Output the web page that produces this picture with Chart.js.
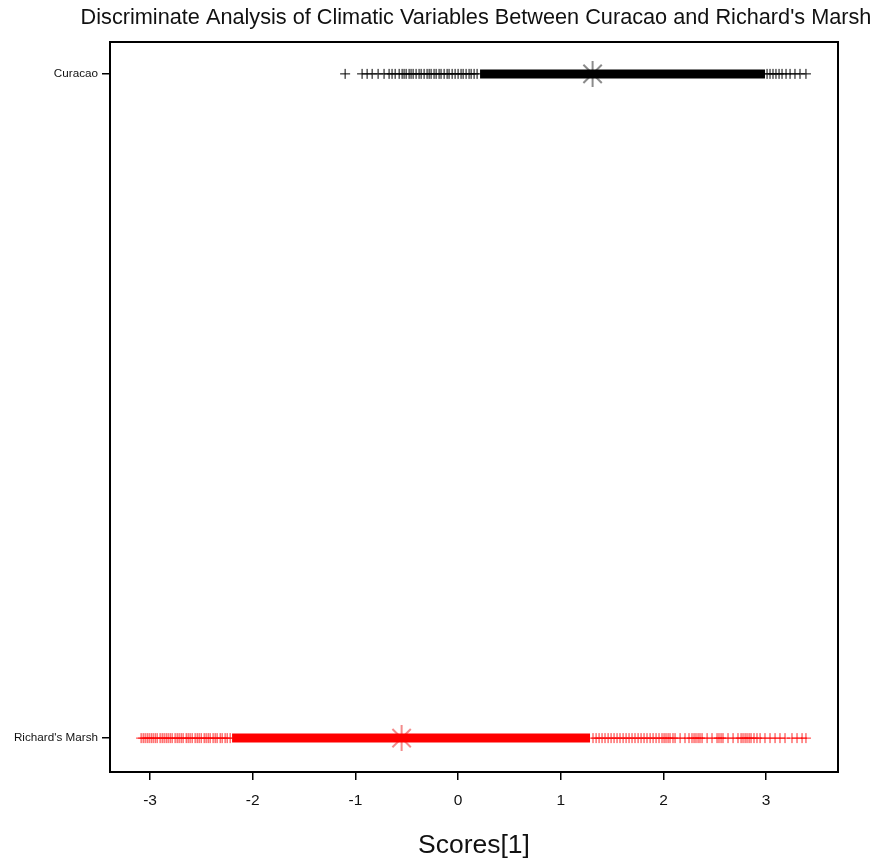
<!DOCTYPE html>
<html>
<head>
<meta charset="utf-8">
<script src="https://cdn.jsdelivr.net/npm/chart.js@4/dist/chart.umd.min.js"></script>
<style>
  html, body { margin: 0; padding: 0; background: #fff; }
  #wrap { width: 877px; height: 862px; }
</style>
</head>
<body>
<div id="wrap"><canvas id="lda"></canvas></div>
<script>
// Group labels, bottom (y = 1) to top (y = 2)
const groupNames = ["Richard's Marsh", 'Curacao'];
const xTicks = [-3, -2, -1, 0, 1, 2, 3];
const chartTitle = "Discriminate Analysis of Climatic Variables Between Curacao and Richard's Marsh";

// Individual discriminant scores that are readable as separate marks
const curacaoScores = [
    -1.100, -0.935, -0.886, -0.837, -0.779, -0.721, -0.672, -0.643, -0.613, -0.574,
    -0.545, -0.526, -0.506, -0.477, -0.458, -0.438, -0.409, -0.380, -0.360, -0.331,
    -0.302, -0.282, -0.263, -0.234, -0.214, -0.185, -0.166, -0.136, -0.107, -0.088,
    -0.058, -0.029, 0.000, 0.029, 0.049, 0.078, 0.107, 0.127, 0.156, 0.185,
    3.009, 3.038, 3.067, 3.096, 3.126, 3.155, 3.194, 3.233, 3.281, 3.330, 3.388
];
const marshScores = [
    -3.087, -3.067, -3.048, -3.028, -3.009, -2.989, -2.970, -2.950, -2.931, -2.902,
    -2.882, -2.863, -2.843, -2.824, -2.804, -2.785, -2.756, -2.736, -2.717, -2.697,
    -2.678, -2.648, -2.629, -2.610, -2.590, -2.561, -2.541, -2.522, -2.502, -2.473,
    -2.454, -2.434, -2.415, -2.386, -2.366, -2.347, -2.317, -2.298, -2.269, -2.249, -2.220,
    1.314, 1.344, 1.373, 1.402, 1.431, 1.461, 1.490, 1.519, 1.548, 1.577,
    1.607, 1.636, 1.665, 1.694, 1.723, 1.753, 1.782, 1.811, 1.840, 1.870,
    1.899, 1.928, 1.957, 1.986, 2.006, 2.025, 2.045, 2.064, 2.093, 2.113,
    2.162, 2.210, 2.249, 2.278, 2.298, 2.317, 2.337, 2.356, 2.376, 2.425,
    2.473, 2.522, 2.541, 2.561, 2.580, 2.629, 2.678, 2.726, 2.756, 2.775,
    2.795, 2.814, 2.834, 2.853, 2.882, 2.911, 2.941, 2.989, 3.038, 3.087,
    3.135, 3.184, 3.252, 3.301, 3.350, 3.388
];

// Ranges where the marks are so dense they merge into a solid band
const curacaoBand = [0.214, 2.989];
const marshBand = [-2.201, 1.285];

// Group means (Curacao, Richard's Marsh)
const groupMeans = [1.31, -0.55];

const CUR_COLOR = '#000000';
const RM_COLOR = '#ff0000';
const FONT = 'Liberation Sans, Arial, sans-serif';

function strip(values, y) {
    return values.map(v => ({ x: v, y: y }));
}

// Full box around the plot region, plus the title centred over it
const boxPlugin = {
    id: 'box',
    afterDraw(chart) {
        const { ctx, chartArea: a } = chart;
        ctx.save();
        ctx.strokeStyle = '#000';
        ctx.lineWidth = 2;
        ctx.strokeRect(a.left, a.top, a.right - a.left, a.bottom - a.top);

        ctx.fillStyle = '#111';
        ctx.font = '21.7px ' + FONT;
        ctx.textAlign = 'center';
        ctx.textBaseline = 'middle';
        ctx.fillText(chartTitle, (a.left + a.right) / 2 + 2, 18);
        ctx.restore();
    }
};

new Chart(document.getElementById('lda'), {
    type: 'scatter',
    data: {
        datasets: [
            {
                data: strip(curacaoBand, 2),
                showLine: true,
                borderColor: CUR_COLOR,
                borderWidth: 9,
                pointRadius: 0,
                borderCapStyle: 'butt'
            },
            {
                data: strip(curacaoScores, 2),
                pointStyle: 'cross',
                pointRadius: 5,
                borderWidth: 1,
                borderColor: CUR_COLOR
            },
            {
                data: strip(marshBand, 1),
                showLine: true,
                borderColor: RM_COLOR,
                borderWidth: 9,
                pointRadius: 0,
                borderCapStyle: 'butt'
            },
            {
                data: strip(marshScores, 1),
                pointStyle: 'cross',
                pointRadius: 5,
                borderWidth: 1,
                borderColor: 'rgba(255, 0, 0, 0.85)'
            },
            {
                data: [{ x: groupMeans[0], y: 2 }],
                pointStyle: 'star',
                pointRadius: 13,
                borderWidth: 2,
                borderColor: 'rgba(110, 110, 110, 0.8)'
            },
            {
                data: [{ x: groupMeans[1], y: 1 }],
                pointStyle: 'star',
                pointRadius: 13,
                borderWidth: 2,
                borderColor: 'rgba(240, 110, 110, 0.8)'
            }
        ]
    },
    options: {
        responsive: true,
        maintainAspectRatio: false,
        animation: false,
        layout: { padding: { top: 42, right: 39, bottom: 0 } },
        plugins: {
            legend: { display: false },
            tooltip: { enabled: false },
            title: { display: false }
        },
        scales: {
            x: {
                type: 'linear',
                min: -3.39,
                max: 3.70,
                afterBuildTicks: axis => { axis.ticks = xTicks.map(v => ({ value: v })); },
                afterFit: axis => { axis.height = 90; },
                ticks: {
                    color: '#111',
                    font: { family: FONT, size: 15.5 },
                    padding: 11,
                    maxRotation: 0
                },
                grid: {
                    drawOnChartArea: false,
                    drawTicks: true,
                    tickLength: 8,
                    color: '#000',
                    lineWidth: 1.5
                },
                border: { display: true, color: '#000', width: 2 },
                title: {
                    display: true,
                    text: 'Scores[1]',
                    color: '#111',
                    font: { family: FONT, size: 26.5 },
                    padding: { top: 14, bottom: 0 }
                }
            },
            y: {
                type: 'linear',
                min: 0.949,
                max: 2.048,
                afterBuildTicks: axis => { axis.ticks = [{ value: 1 }, { value: 2 }]; },
                afterFit: axis => { axis.width = 110; },
                ticks: {
                    color: '#111',
                    font: { family: FONT, size: 11.7 },
                    padding: 4,
                    callback: v => groupNames[v - 1]
                },
                grid: {
                    drawOnChartArea: false,
                    drawTicks: true,
                    tickLength: 8,
                    color: '#000',
                    lineWidth: 1.5
                },
                border: { display: true, color: '#000', width: 2 }
            }
        }
    },
    plugins: [boxPlugin]
});
</script>
</body>
</html>
